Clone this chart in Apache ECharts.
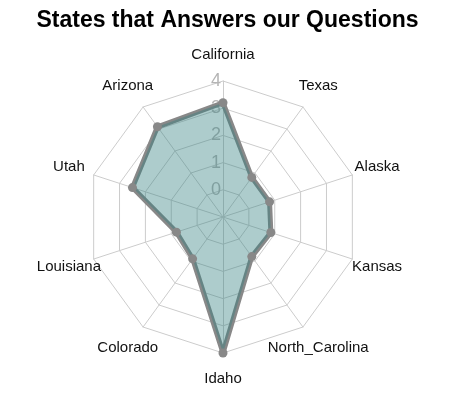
<!DOCTYPE html>
<html>
<head>
<meta charset="utf-8">
<script src="https://cdn.jsdelivr.net/npm/echarts@6/dist/echarts.min.js"></script>
<style>
  html, body { margin: 0; padding: 0; background: #fff; }
  #chart { width: 455px; height: 420px; }
</style>
</head>
<body>
<div id="chart"></div>
<script>
  // states, listed counter-clockwise from the top (echarts radar order)
  var states = ['California', 'Arizona', 'Utah', 'Louisiana', 'Colorado',
    'Idaho', 'North_Carolina', 'Kansas', 'Alaska', 'Texas']
  var answers = [3.2, 3.1, 2.5, 0.8, 0.9, 4, 0.8, 0.85, 0.8, 0.8]
  var axisMin = -1
  var axisMax = 4

  var chart = echarts.init(document.getElementById('chart'))

  var indicators = states.map(function (s, i) {
    var ind = {name: s, min: axisMin, max: axisMax}
    if (i === 0) {
      ind.axisLabel = {show: true}
    }
    return ind
  })

  chart.setOption({
    animation: false,
    title: {
      text: 'States that Answers our Questions',
      left: 'center',
      top: 4,
      textStyle: {
        fontFamily: 'Liberation Sans',
        fontSize: 23,
        fontWeight: 'bold',
        color: '#000'
      }
    },
    radar: {
      center: [223, 217],
      radius: 136,
      splitNumber: 5,
      startAngle: 90,
      indicator: indicators,
      axisName: {
        color: '#111',
        fontFamily: 'Liberation Sans',
        fontSize: 15,
        align: 'center',
        verticalAlign: 'middle'
      },
      nameGap: 26,
      axisLine: {lineStyle: {color: '#cccccc', width: 1}},
      splitLine: {lineStyle: {color: '#cccccc', width: 1}},
      splitArea: {show: false},
      axisTick: {show: false},
      axisLabel: {
        show: false,
        color: '#b5b5b5',
        fontFamily: 'Liberation Sans',
        fontSize: 18,
        margin: 2,
        showMaxLabel: true,
        showMinLabel: false,
        formatter: function (v) {
          return v < 0 ? '' : String(v)
        }
      }
    },
    series: [{
      type: 'radar',
      symbol: 'circle',
      symbolSize: 9,
      itemStyle: {color: '#888888'},
      lineStyle: {color: '#888888', width: 5},
      areaStyle: {color: 'rgba(51, 128, 128, 0.4)', opacity: 1},
      data: [{value: answers, name: 'answers'}]
    }]
  })
</script>
</body>
</html>
